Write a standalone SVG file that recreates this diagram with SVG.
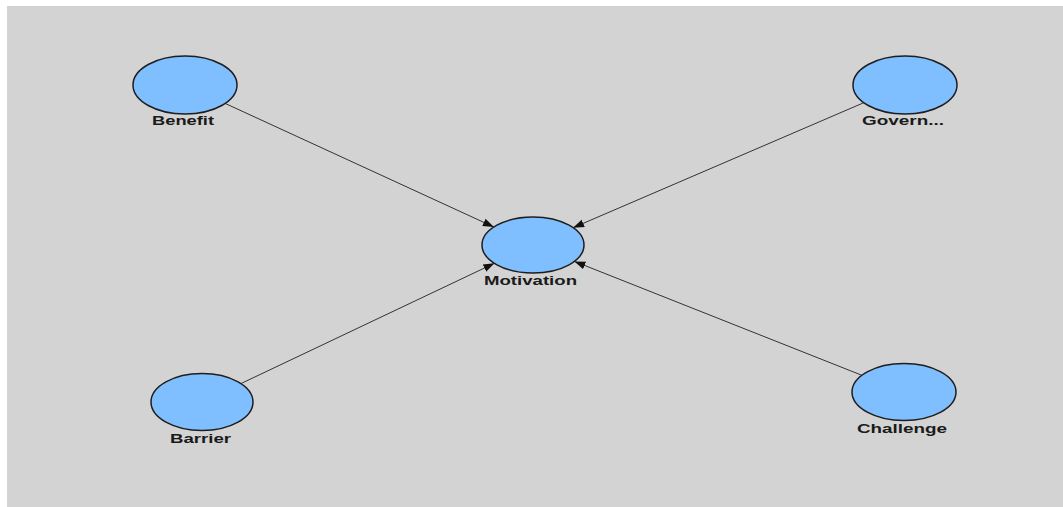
<svg xmlns="http://www.w3.org/2000/svg" width="1063" height="507" viewBox="0 0 1063 507">
<style>
.node ellipse{fill:#80bfff;stroke:#1e1e1e;stroke-width:1.5}
.node text{font-family:"Liberation Sans",Arial,sans-serif;font-weight:bold;font-size:12.5px;fill:#1a1a1a;text-anchor:middle}
.edge{stroke:#333;stroke-width:1;fill:none;marker-end:url(#arrow)}
</style>
<defs>
<marker id="arrow" markerUnits="userSpaceOnUse" markerWidth="12" markerHeight="10" refX="11" refY="4" orient="auto" viewBox="0 0 12 8">
<path d="M0,0 L11,4 L0,8 Z" fill="#111"/>
</marker>
</defs>
<rect x="0" y="0" width="1063" height="507" fill="#ffffff"/>
<rect x="7" y="6" width="1056" height="501" fill="#d3d3d3"/>
<g id="connectors">
<line class="edge" x1="225.1" y1="103.4" x2="493.9" y2="227"/>
<line class="edge" x1="863.8" y1="102.7" x2="573.1" y2="227.7"/>
<line class="edge" x1="240.9" y1="383.6" x2="494.4" y2="263.3"/>
<line class="edge" x1="861.9" y1="375.3" x2="574.4" y2="261.4"/>
</g>
<g id="node-benefit" class="node">
<ellipse cx="185" cy="85" rx="52" ry="29"/>
<text x="183" y="125" textLength="62" lengthAdjust="spacingAndGlyphs">Benefit</text>
</g>
<g id="node-motivation" class="node">
<ellipse cx="533" cy="245" rx="51" ry="28"/>
<text x="530.5" y="285" textLength="93" lengthAdjust="spacingAndGlyphs">Motivation</text>
</g>
<g id="node-govern" class="node">
<ellipse cx="905" cy="85" rx="52" ry="29"/>
<text x="903" y="125" textLength="82" lengthAdjust="spacingAndGlyphs">Govern...</text>
</g>
<g id="node-barrier" class="node">
<ellipse cx="202" cy="402" rx="51" ry="28.5"/>
<text x="200.5" y="443" textLength="61" lengthAdjust="spacingAndGlyphs">Barrier</text>
</g>
<g id="node-challenge" class="node">
<ellipse cx="904" cy="392" rx="52" ry="28.5"/>
<text x="902" y="433" textLength="90" lengthAdjust="spacingAndGlyphs">Challenge</text>
</g>
</svg>
